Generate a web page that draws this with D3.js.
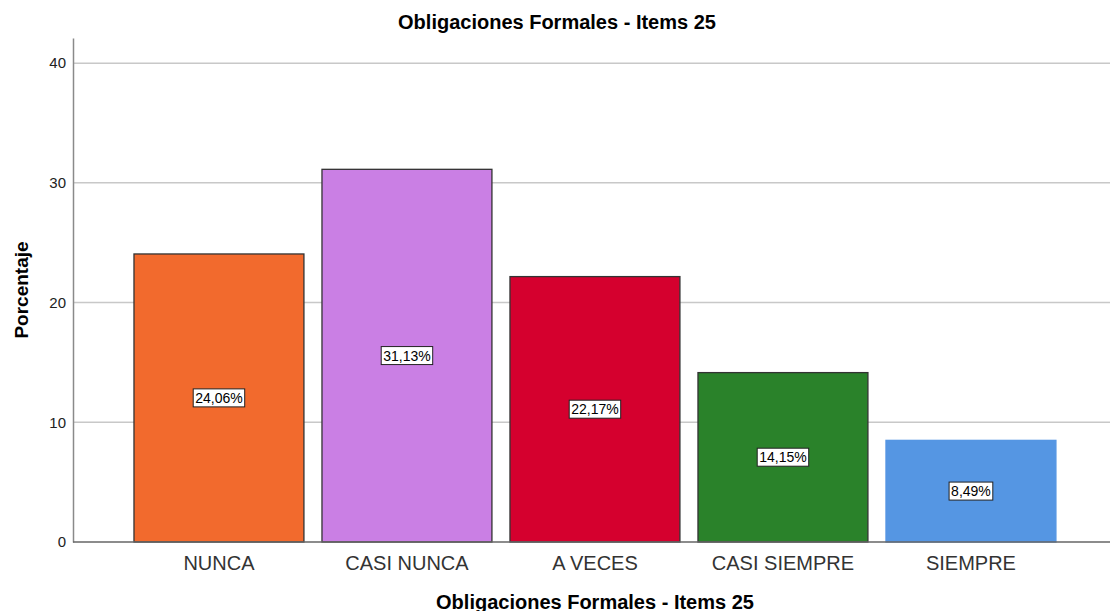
<!DOCTYPE html>
<html>
<head>
<meta charset="utf-8">
<script src="https://cdn.jsdelivr.net/npm/d3@7"></script>
<style>
  body { margin: 0; background: #fff; }
  text { font-family: "Liberation Sans", Arial, sans-serif; }
</style>
</head>
<body>
<script>
const categories = ['NUNCA', 'CASI NUNCA', 'A VECES', 'CASI SIEMPRE', 'SIEMPRE'];
const values = [24.06, 31.13, 22.17, 14.15, 8.49];
const colors = ['#f26a2d', '#ca7fe4', '#d5002e', '#2a822a', '#5596e3'];
const yTicks = [0, 10, 20, 30, 40];
const title = 'Obligaciones Formales - Items 25';

const W = 1110, H = 611;
const margin = { top: 38, right: 0, bottom: 69, left: 73 };

const svg = d3.select('body').append('svg')
    .attr('width', W)
    .attr('height', H);

const xScale = d3.scaleBand()
    .domain(categories)
    .range([margin.left, W - margin.right])
    .paddingInner(0.096)
    .paddingOuter(0.306)
    .align(0.53);

const yScale = d3.scaleLinear()
    .domain([0, 42.1])
    .range([H - margin.bottom, margin.top]);

const fmt = v => d3.format('.2f')(v).replace('.', ',') + '%';

// gridlines
svg.append('g')
    .selectAll('line')
    .data(yTicks.filter(d => d > 0))
    .enter().append('line')
    .attr('x1', margin.left)
    .attr('x2', W - margin.right)
    .attr('y1', d => yScale(d))
    .attr('y2', d => yScale(d))
    .attr('stroke', '#c8c8c8')
    .attr('stroke-width', 1.5);

// y axis
const yAxis = svg.append('g')
    .attr('transform', 'translate(' + margin.left + ',0)')
    .call(d3.axisLeft(yScale).tickValues(yTicks).tickSize(0).tickPadding(7));
yAxis.select('.domain').attr('stroke', '#8a8a8a').attr('stroke-width', 1.5);
yAxis.selectAll('text')
    .style('font-size', '15px')
    .attr('fill', '#222');

// bars
svg.selectAll('.bar')
    .data(values)
    .enter().append('rect')
    .attr('class', 'bar')
    .attr('x', (d, i) => xScale(categories[i]))
    .attr('y', d => yScale(d))
    .attr('width', xScale.bandwidth())
    .attr('height', d => yScale(0) - yScale(d))
    .attr('fill', (d, i) => colors[i])
    .attr('stroke', (d, i) => i === 4 ? '#5596e3' : '#333')
    .attr('stroke-width', 1.3);

// baseline
svg.append('line')
    .attr('x1', margin.left)
    .attr('x2', W - margin.right)
    .attr('y1', yScale(0))
    .attr('y2', yScale(0))
    .attr('stroke', '#666')
    .attr('stroke-width', 1.5);

// x axis labels
const xAxis = svg.append('g')
    .attr('transform', 'translate(0,' + yScale(0) + ')')
    .call(d3.axisBottom(xScale).tickSize(0));
xAxis.select('.domain').remove();
xAxis.selectAll('text')
    .attr('y', 28)
    .attr('dy', null)
    .style('font-size', '20px')
    .attr('fill', '#333');

// value labels
const labels = svg.selectAll('.vlabel')
    .data(values)
    .enter().append('g')
    .attr('class', 'vlabel')
    .attr('transform', (d, i) => 'translate(' + (xScale(categories[i]) + xScale.bandwidth() / 2) + ',' + yScale(d / 2) + ')');
labels.append('text')
    .attr('text-anchor', 'middle')
    .attr('dy', '0.35em')
    .style('font-size', '14px')
    .attr('fill', '#000')
    .text(d => fmt(d));
labels.each(function () {
    const g = d3.select(this);
    const bb = g.select('text').node().getBBox();
    g.insert('rect', 'text')
        .attr('x', bb.x - 2)
        .attr('y', bb.y - 1)
        .attr('width', bb.width + 4)
        .attr('height', bb.height + 2)
        .attr('fill', '#fff')
        .attr('stroke', '#222')
        .attr('stroke-width', 1);
});

// title
svg.append('text')
    .attr('x', 557)
    .attr('y', 29)
    .attr('text-anchor', 'middle')
    .style('font-size', '20px')
    .style('font-weight', 'bold')
    .text(title);

// y label
svg.append('text')
    .attr('transform', 'translate(28,' + 290 + ') rotate(-90)')
    .attr('text-anchor', 'middle')
    .style('font-size', '19px')
    .style('font-weight', 'bold')
    .text('Porcentaje');

// x label
svg.append('text')
    .attr('x', 595)
    .attr('y', 609)
    .attr('text-anchor', 'middle')
    .style('font-size', '20px')
    .style('font-weight', 'bold')
    .text(title);
</script>
</body>
</html>
